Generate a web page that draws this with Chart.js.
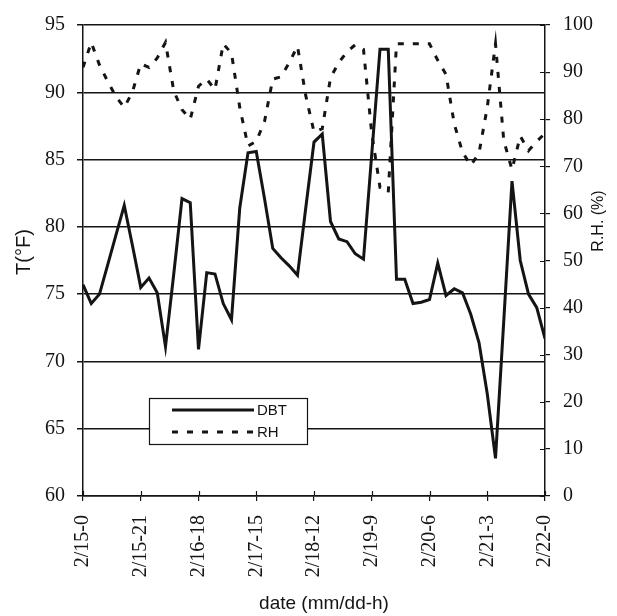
<!DOCTYPE html>
<html><head><meta charset="utf-8">
<script src="https://cdn.jsdelivr.net/npm/chart.js@4.4.1/dist/chart.umd.min.js"></script>
<style>html,body{margin:0;padding:0;background:#fff;}canvas{display:block;}</style>
</head><body>
<canvas id="c" width="617" height="616"></canvas>
<script>
// time of each sample, hours after 2/15 00:00
const hours = [0,3,6,9,12,15,18,21,24,27,30,33,36,39,42,45,48,51,54,57,60,63,66,69,72,75,78,81,84,87,90,93,96,99,102,105,108,111,114,117,120,123,126,129,132,135,138,141,144,147,150,153,156,159,162,165,168];
// x-axis tick positions (hours) and their labels
const tickHours = [0,21,42,63,84,105,126,147,168];
const tickLabels = ['2/15-0','2/15-21','2/16-18','2/17-15','2/18-12','2/19-9','2/20-6','2/21-3','2/22-0'];
// dry bulb temperature (°F)
const dbt = [75.7,74.3,75.0,77.2,79.4,81.6,78.6,75.5,76.2,75.1,71.1,76.5,82.1,81.8,70.9,76.6,76.5,74.3,73.1,81.4,85.5,85.6,82.1,78.4,77.7,77.1,76.4,81.4,86.3,86.9,80.4,79.1,78.9,78.0,77.6,85.4,93.2,93.2,76.1,76.1,74.3,74.4,74.6,77.3,74.9,75.4,75.1,73.5,71.4,67.6,62.8,73.0,83.4,77.5,75.0,74.0,71.7];
// relative humidity (%)
const rh = [91.0,96.3,91.5,88.0,84.8,82.5,85.8,91.8,91.0,93.0,96.3,86.0,82.0,80.0,87.0,88.5,86.3,96.0,94.0,82.5,74.3,75.3,79.5,88.5,89.0,92.0,95.5,85.0,77.3,78.0,88.8,92.0,94.3,95.8,94.8,77.0,65.5,64.4,96.0,96.0,96.0,96.0,96.0,92.5,89.5,79.0,73.0,70.2,72.8,82.5,96.0,75.5,69.3,76.4,73.3,75.3,77.0];

const INK = '#141414';
const SERIF = "'Liberation Serif', 'Times New Roman', serif";
const SANS = "'Liberation Sans', Arial, sans-serif";

const extras = {
  id: 'extras',
  afterDraw(chart) {
    const ctx = chart.ctx;
    const xs = chart.scales.x, yr = chart.scales.y1;
    ctx.save();
    // inner halves of crossing tick marks
    ctx.strokeStyle = INK; ctx.lineWidth = 1.2;
    ctx.beginPath();
    xs.ticks.forEach(t => { const p = Math.round(xs.getPixelForValue(t.value)) + 0.5; ctx.moveTo(p, xs.top); ctx.lineTo(p, xs.top - 5); });
    yr.ticks.forEach(t => { const p = Math.round(yr.getPixelForValue(t.value)) + 0.5; ctx.moveTo(yr.left, p); ctx.lineTo(yr.left - 5, p); });
    ctx.stroke();

    // legend box
    const lx = 149, ly = 398, lw = 158, lh = 46;
    ctx.fillStyle = '#fff';
    ctx.fillRect(lx, ly, lw, lh);
    ctx.lineWidth = 1.2; ctx.strokeStyle = INK;
    ctx.strokeRect(lx + 0.5, ly + 0.5, lw, lh);
    const rows = [410, 432];
    chart.data.datasets.forEach((ds, i) => {
      const yy = rows[i];
      ctx.beginPath();
      ctx.lineWidth = ds.borderWidth;
      ctx.strokeStyle = ds.borderColor;
      ctx.setLineDash(ds.borderDash || []);
      ctx.moveTo(172, yy); ctx.lineTo(254, yy);
      ctx.stroke();
      ctx.setLineDash([]);
      ctx.fillStyle = INK;
      ctx.font = '15px ' + SANS;
      ctx.textAlign = 'left'; ctx.textBaseline = 'middle';
      ctx.fillText(ds.label, 257, yy + 0.5);
    });

    // axis titles
    ctx.fillStyle = INK;
    ctx.textAlign = 'center'; ctx.textBaseline = 'middle';
    ctx.font = '19px ' + SANS;
    ctx.fillText('date (mm/dd-h)', 324, 604);
    ctx.save(); ctx.translate(24, 252); ctx.rotate(-Math.PI / 2);
    ctx.font = '20px ' + SANS; ctx.fillText('T(°F)', 0, 0); ctx.restore();
    ctx.save(); ctx.translate(599, 221); ctx.rotate(-Math.PI / 2);
    ctx.font = '16px ' + SANS; ctx.fillText('R.H. (%)', 0, 0); ctx.restore();
    ctx.restore();
  }
};

new Chart(document.getElementById('c'), {
  type: 'line',
  data: {
    datasets: [
      { label: 'DBT', data: hours.map((h, i) => ({ x: h, y: dbt[i] })), yAxisID: 'y',
        borderColor: INK, borderWidth: 3, pointRadius: 0, tension: 0, fill: false },
      { label: 'RH', data: hours.map((h, i) => ({ x: h, y: rh[i] })), yAxisID: 'y1',
        borderColor: INK, borderWidth: 3, borderDash: [6, 9], pointRadius: 0, tension: 0, fill: false }
    ]
  },
  options: {
    responsive: false,
    animation: false,
    layout: { padding: { top: 21, left: 0, right: 0, bottom: 0 } },
    plugins: { legend: { display: false }, tooltip: { enabled: false } },
    scales: {
      x: {
        type: 'linear', min: 0, max: 168,
        afterBuildTicks: s => { s.ticks = tickHours.map(v => ({ value: v })); },
        afterFit: s => { s.height = 120; },
        ticks: { autoSkip: false, minRotation: 90, maxRotation: 90, padding: 14, color: INK,
                 font: { family: SERIF, size: 20 },
                 callback: v => tickLabels[tickHours.indexOf(v)] },
        grid: { drawOnChartArea: false, tickLength: 5, color: INK, lineWidth: 1.2 },
        border: { color: INK, width: 1.5 }
      },
      y: {
        position: 'left', min: 60, max: 95,
        afterFit: s => { s.width = 83; },
        ticks: { stepSize: 5, padding: 12, color: INK, font: { family: SERIF, size: 20 } },
        grid: { color: INK, lineWidth: 1.5, tickLength: 6 },
        border: { color: INK, width: 1.5 }
      },
      y1: {
        position: 'right', min: 0, max: 100,
        afterFit: s => { s.width = 72; },
        ticks: { stepSize: 10, padding: 13, color: INK, font: { family: SERIF, size: 20 } },
        grid: { drawOnChartArea: false, tickLength: 5, color: INK, lineWidth: 1.2 },
        border: { color: INK, width: 1.5 }
      }
    }
  },
  plugins: [extras]
});
</script>
</body></html>
